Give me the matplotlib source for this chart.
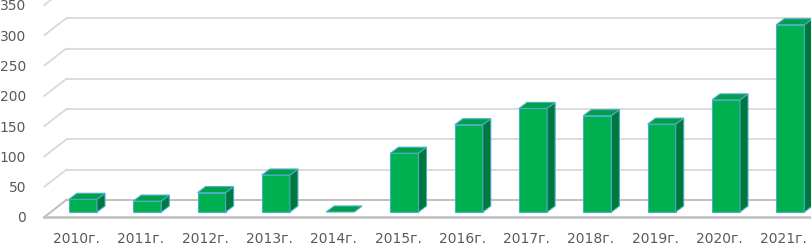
import matplotlib.pyplot as plt
from matplotlib.patches import Polygon
import numpy as np

# data
years = ["2010г.", "2011г.", "2012г.", "2013г.", "2014г.", "2015г.",
         "2016г.", "2017г.", "2018г.", "2019г.", "2020г.", "2021г."]
values = [21, 18, 32, 61, 0, 97, 144, 171, 159, 145, 185, 309]
y_ticks = [0, 50, 100, 150, 200, 250, 300, 350]

FRONT = "#00B050"
TOP = "#00A048"
SIDE = "#00773B"
EDGE = "#4BACC6"
GRID = "#D9D9D9"
FLOOR = "#BFBFBF"
TEXT = "#595959"

# layout in pixels (fig is 812x246 at 100 dpi)
W, H = 812, 246
STEP = 64.3          # px per category
K = 0.606            # px per value unit
X0 = 76.5            # px of first category centre (front plane)
Y0 = 217             # px from top of value 0 (front plane)

fig = plt.figure(figsize=(W / 100, H / 100), dpi=100)
left = X0 - STEP / 2
ax = fig.add_axes([left / W, (H - Y0) / H, len(years) * STEP / W, Y0 / H])
ax.set_xlim(-0.5, len(years) - 0.5)
ax.set_ylim(0, Y0 / K)

# offsets converted from pixels to data units
def px(dx, dy):
    return dx / STEP, dy / K

wall_dx, wall_dy = px(22, 17)     # depth of the floor
bar_dx, bar_dy = px(6.5, 5)       # where bar front sits
dep_dx, dep_dy = px(8, 6)         # bar depth
bw = 28 / STEP

# back wall grid + left wall diagonals
x_end = len(years) + 1
for v in y_ticks:
    ax.plot([-0.5 + wall_dx, x_end], [v + wall_dy] * 2, color=GRID, lw=1.3,
            zorder=1, clip_on=False, solid_capstyle="butt")
    ax.plot([-0.5, -0.5 + wall_dx], [v, v + wall_dy], color=GRID, lw=1.3,
            zorder=1, clip_on=False)
# floor
ax.plot([-0.5 + wall_dx, x_end], [wall_dy] * 2, color=FLOOR, lw=1.3, zorder=1, clip_on=False)
ax.plot([-0.5, -0.5 + wall_dx], [0, wall_dy], color=FLOOR, lw=1.3, zorder=1, clip_on=False)
ax.plot([-0.5, x_end], [0, 0], color=FLOOR, lw=1.8, zorder=1, clip_on=False)

# 3d-looking bars
xs = np.arange(len(years))
for i, v in enumerate(values):
    l = xs[i] - bw / 2 + bar_dx
    r = l + bw
    b = bar_dy
    t = b + v
    if v > 0:
        ax.add_patch(Polygon([(l, b), (r, b), (r, t), (l, t)], closed=True,
                             facecolor=FRONT, edgecolor=EDGE, lw=0.8, zorder=3, clip_on=False))
        ax.add_patch(Polygon([(r, b), (r + dep_dx, b + dep_dy), (r + dep_dx, t + dep_dy), (r, t)],
                             closed=True, facecolor=SIDE, edgecolor=EDGE, lw=0.8, zorder=3,
                             clip_on=False))
    ax.add_patch(Polygon([(l, t), (r, t), (r + dep_dx, t + dep_dy), (l + dep_dx, t + dep_dy)],
                         closed=True, facecolor=TOP, edgecolor=EDGE, lw=0.8, zorder=3,
                         clip_on=False))

ax.set_xticks(xs)
ax.set_xticklabels(years)
ax.set_yticks(y_ticks)
ax.tick_params(axis="x", length=0, pad=11, labelsize=10, labelcolor=TEXT)
ax.tick_params(axis="y", length=0, pad=13, labelsize=10, labelcolor=TEXT)
for lab in ax.get_xticklabels() + ax.get_yticklabels():
    lab.set_fontfamily("DejaVu Sans")
for s in ax.spines.values():
    s.set_visible(False)
ax.patch.set_visible(False)

fig.savefig("out.png", dpi=100)
